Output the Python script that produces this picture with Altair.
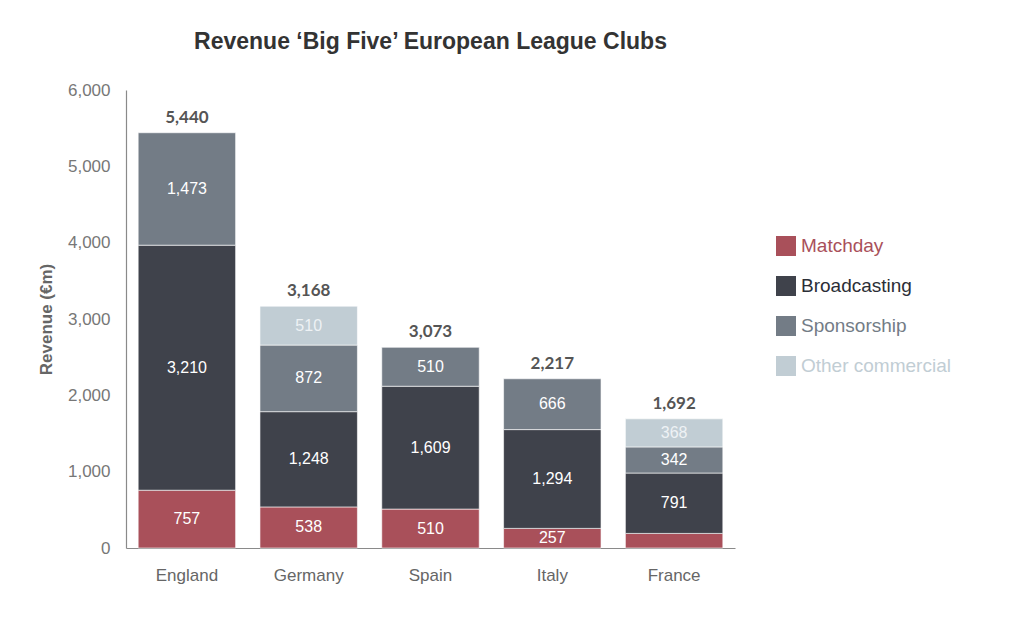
import altair as alt
import pandas as pd

countries = ["England", "Germany", "Spain", "Italy", "France"]
series = ["Matchday", "Broadcasting", "Sponsorship", "Other commercial"]
matchday = [757, 538, 510, 257, 191]
broadcasting = [3210, 1248, 1609, 1294, 791]
sponsorship = [1473, 872, 510, 666, 342]
other_commercial = [0, 510, 0, 0, 368]
totals = [5440, 3168, 3073, 2217, 1692]
colors = ["#a9505a", "#3f424b", "#737c86", "#c1cdd4"]
y_ticks = [0, 1000, 2000, 3000, 4000, 5000, 6000]

rows = []
for i, c in enumerate(countries):
    for j, (s, vals) in enumerate(zip(series, [matchday, broadcasting, sponsorship, other_commercial])):
        if vals[i] > 0:
            rows.append({"country": c, "series": s, "order": j, "value": vals[i]})
df = pd.DataFrame(rows)

tot_df = pd.DataFrame({
    "country": countries,
    "top": df.groupby("country", sort=False)["value"].sum().reindex(countries).values,
    "label": [f"{t:,}" for t in totals],
})

x_axis = alt.Axis(labelAngle=0, labelFontSize=17, labelColor="#666666",
                  labelFont="Liberation Sans", labelPadding=19, ticks=False,
                  domainColor="#8a8a8a", domainWidth=1.2)
x_scale = alt.Scale(paddingInner=0.2, paddingOuter=0.1)
y_axis = alt.Axis(values=y_ticks, format=",.0f", grid=False, ticks=False,
                  labelFontSize=17, labelColor="#777777", labelFont="Liberation Sans",
                  labelPadding=16, domainColor="#8a8a8a", domainWidth=1.2,
                  titleFontSize=17, titleColor="#666666", titleFont="Liberation Sans",
                  titleFontWeight="bold", titlePadding=12)
y_scale = alt.Scale(domain=[0, 6000], nice=False)
y_title = "Revenue (€m)"


def xenc():
    return alt.X("country:N", sort=countries, title=None, scale=x_scale, axis=x_axis)


bars = alt.Chart(df).mark_bar(stroke="white", strokeWidth=0.6).encode(
    x=xenc(),
    y=alt.Y("value:Q", stack="zero", scale=y_scale, title=y_title, axis=y_axis),
    color=alt.Color("series:N", sort=series,
                    scale=alt.Scale(domain=series, range=colors),
                    legend=alt.Legend(title=None, orient="none", legendX=650, legendY=146,
                                      symbolType="square", symbolSize=400,
                                      symbolStrokeWidth=0, symbolOpacity=1,
                                      labelFontSize=19, labelFont="Liberation Sans",
                                      labelOffset=5, rowPadding=20,
                                      labelColor={"expr": "datum.value == 'Matchday' ? '#a9505a' : datum.value == 'Broadcasting' ? '#2b2e36' : datum.value == 'Sponsorship' ? '#737c86' : '#c1cdd4'"})),
    order=alt.Order("order:Q"),
)

seg_labels = alt.Chart(df).transform_stack(
    stack="value", groupby=["country"], as_=["y0", "y1"],
    sort=[alt.SortField("order", order="ascending")]
).transform_calculate(
    mid="(datum.y0 + datum.y1) / 2"
).transform_filter("datum.value >= 200").mark_text(
    fontSize=16, font="Liberation Sans", baseline="middle"
).encode(
    x=xenc(),
    y=alt.Y("mid:Q", scale=y_scale, title=y_title, axis=y_axis),
    text=alt.Text("value:Q", format=","),
    color=alt.condition("datum.series == 'Other commercial'", alt.value("#eef2f5"), alt.value("white")),
)

tot_labels = alt.Chart(tot_df).mark_text(
    color="#555555", fontSize=17, font="Lato", fontWeight="bold", baseline="alphabetic", dy=-10
).encode(
    x=xenc(),
    y=alt.Y("top:Q", scale=y_scale, title=y_title, axis=y_axis),
    text="label:N",
)

chart = alt.layer(bars, seg_labels, tot_labels).properties(
    width=609, height=458,
    title=alt.TitleParams("Revenue ‘Big Five’ European League Clubs", fontSize=23,
                          font="Liberation Sans", fontWeight="bold", color="#333333",
                          anchor="middle", offset=27),
    autosize=alt.AutoSizeParams(type="none"),
    padding={"left": 118, "top": 82, "right": 280, "bottom": 80},
).configure_view(stroke=None)

chart.save("out.html", embed_options={"renderer": "svg", "actions": False})
